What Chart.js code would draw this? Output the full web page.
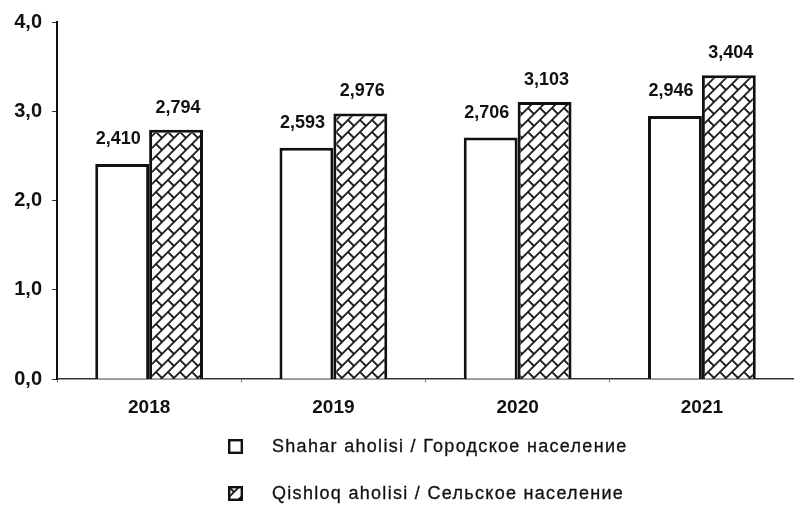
<!DOCTYPE html>
<html>
<head>
<meta charset="utf-8">
<script src="https://cdn.jsdelivr.net/npm/chart.js@4.4.0/dist/chart.umd.min.js"></script>
<style>
  html, body { margin: 0; padding: 0; background: #fff; }
  #wrap { position: relative; width: 794px; height: 510px; }
  #c { position: absolute; left: 0; top: 0; }
  .leg { position: absolute; left: 228px; font-family: "Liberation Sans", Arial, sans-serif; font-size: 18px; letter-spacing: 1.3px; color: #111; display: flex; align-items: center; -webkit-text-stroke: 0.3px #111; }
  .leg canvas { margin-right: 29px; }
</style>
</head>
<body>
<div id="wrap">
  <canvas id="c" width="794" height="510"></canvas>
  <div class="leg" id="leg1" style="top:436px;"><canvas id="lb1" width="15" height="15"></canvas><span id="lt1"></span></div>
  <div class="leg" id="leg2" style="top:483px;"><canvas id="lb2" width="15" height="15"></canvas><span id="lt2"></span></div>
</div>
<script>
const categories = ['2018', '2019', '2020', '2021'];
const urbanValues = [2.410, 2.593, 2.706, 2.946];
const ruralValues = [2.794, 2.976, 3.103, 3.404];
const seriesNames = ['Shahar aholisi / Городское население', 'Qishloq aholisi / Сельское население'];
const yTickLabels = ['0,0', '1,0', '2,0', '3,0', '4,0'];

function fmt(v) { return v.toFixed(3).replace('.', ','); }

function makeBrick() {
  const s = 12;
  const p = document.createElement('canvas');
  p.width = s; p.height = s;
  const g = p.getContext('2d');
  g.fillStyle = '#fff';
  g.fillRect(0, 0, s, s);
  g.strokeStyle = '#1a1a1a';
  g.lineWidth = 1.8;
  g.beginPath();
  g.moveTo(-1, s + 1); g.lineTo(s + 1, -1);
  g.moveTo(-1, 1); g.lineTo(1, -1);
  g.moveTo(s - 1, s + 1); g.lineTo(s + 1, s - 1);
  g.moveTo(0, 0); g.lineTo(s / 2, s / 2);
  g.stroke();
  return p;
}
const brickCanvas = makeBrick();
const ctx = document.getElementById('c').getContext('2d');
const brick = ctx.createPattern(brickCanvas, 'repeat');
const FONT = '"Liberation Sans", Arial, sans-serif';

const labelPlugin = {
  id: 'vals',
  afterDatasetsDraw(chart) {
    const c = chart.ctx;
    c.save();
    c.font = 'bold 18px ' + FONT;
    c.fillStyle = '#111';
    c.textAlign = 'center';
    c.textBaseline = 'bottom';
    chart.data.datasets.forEach((ds, di) => {
      chart.getDatasetMeta(di).data.forEach((bar, i) => {
        c.fillText(fmt(ds.data[i]), bar.x - (di === 0 ? 4 : -2), bar.y - (di === 0 ? 16 : 13));
      });
    });
    c.restore();
  }
};

new Chart(ctx, {
  type: 'bar',
  data: {
    labels: categories,
    datasets: [
      { label: seriesNames[0], data: urbanValues, backgroundColor: '#fff', borderColor: '#111', borderWidth: 3, borderSkipped: 'bottom' },
      { label: seriesNames[1], data: ruralValues, backgroundColor: brick, borderColor: '#111', borderWidth: 3, borderSkipped: 'bottom' }
    ]
  },
  plugins: [labelPlugin],
  options: {
    responsive: false,
    animation: false,
    events: [],
    layout: { padding: { top: 9, right: 0, left: 4, bottom: 77 } },
    datasets: { bar: { categoryPercentage: 0.585, barPercentage: 1.0 } },
    plugins: { legend: { display: false }, tooltip: { enabled: false } },
    scales: {
      x: {
        grid: { display: true, drawOnChartArea: false, drawTicks: true, tickLength: 3, color: '#777' },
        border: { display: true, color: '#333', width: 1.5 },
        ticks: { color: '#111', font: { family: FONT, size: 19, weight: 'bold' }, padding: 14 }
      },
      y: {
        min: 0, max: 4,
        afterFit: (s) => { s.width = 53; },
        grid: { display: true, drawOnChartArea: false, drawTicks: true, tickLength: 5, color: '#333' },
        border: { display: true, color: '#111', width: 2 },
        ticks: { stepSize: 1, color: '#111', padding: 10,
          font: { family: FONT, size: 20, weight: 'bold' },
          callback: (v, i) => yTickLabels[i] }
      }
    }
  }
});

function drawBox(id, fill) {
  const b = document.getElementById(id).getContext('2d');
  b.fillStyle = fill; b.fillRect(0, 0, 15, 15);
  b.strokeStyle = '#111'; b.lineWidth = 2.4; b.strokeRect(1.2, 1.2, 12.6, 12.6);
}
drawBox('lb1', '#fff');
drawBox('lb2', ctx.createPattern(brickCanvas, 'repeat'));
document.getElementById('lt1').textContent = seriesNames[0];
document.getElementById('lt2').textContent = seriesNames[1];
</script>
</body>
</html>
